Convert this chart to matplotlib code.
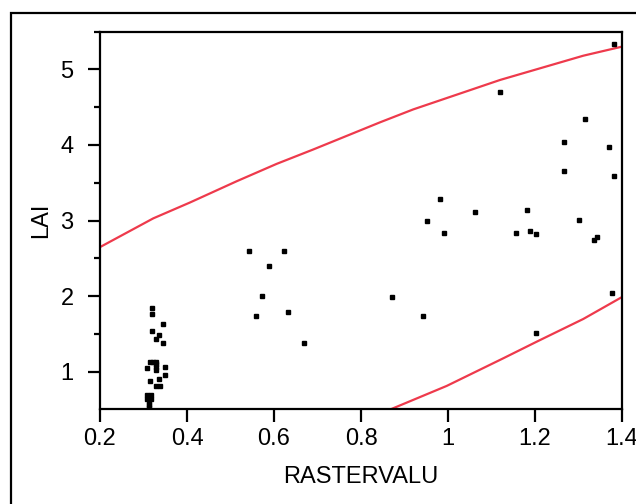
import matplotlib
matplotlib.use("Agg")
import matplotlib.pyplot as plt
from matplotlib.patches import Rectangle
from matplotlib.ticker import MultipleLocator

plt.rcParams['font.family'] = ['Liberation Sans', 'DejaVu Sans']

# scatter data
raster = [1.382, 1.120, 1.315, 1.266, 1.370, 1.266, 1.382,
          0.982, 1.062, 0.952, 1.182, 0.991, 1.156, 1.189, 1.202,
          1.301, 1.343, 1.336, 0.871, 0.942, 1.377, 1.202,
          0.543, 0.624, 0.589, 0.573, 0.633, 0.559, 0.669,
          0.320, 0.320, 0.345, 0.320, 0.335, 0.329, 0.345,
          0.315, 0.322, 0.329, 0.329, 0.309, 0.329, 0.329, 0.349,
          0.349, 0.335, 0.315, 0.329, 0.339,
          0.308, 0.318, 0.308, 0.318, 0.313, 0.313, 0.313, 0.313]
lai = [5.34, 4.70, 4.34, 4.04, 3.97, 3.66, 3.59,
       3.29, 3.12, 2.99, 3.14, 2.83, 2.83, 2.86, 2.82,
       3.01, 2.79, 2.75, 1.99, 1.74, 2.04, 1.51,
       2.60, 2.60, 2.40, 2.01, 1.79, 1.74, 1.38,
       1.84, 1.77, 1.63, 1.54, 1.49, 1.43, 1.38,
       1.13, 1.13, 1.13, 1.10, 1.05, 1.06, 1.02, 1.07,
       0.96, 0.91, 0.88, 0.82, 0.82,
       0.70, 0.70, 0.64, 0.64, 0.67, 0.60, 0.56, 0.53]

# prediction band curves
upper_x = [0.2, 0.3225, 0.407, 0.514, 0.606, 0.690, 0.844, 0.920, 1.120, 1.311, 1.40]
upper_y = [2.65, 3.03, 3.24, 3.52, 3.75, 3.94, 4.30, 4.47, 4.86, 5.18, 5.30]
lower_x = [0.85, 0.874, 0.997, 1.127, 1.204, 1.311, 1.40]
lower_y = [0.46, 0.52, 0.815, 1.18, 1.40, 1.70, 1.99]

xticks = [0.2, 0.4, 0.6, 0.8, 1.0, 1.2, 1.4]
xticklabels = ['0.2', '0.4', '0.6', '0.8', '1', '1.2', '1.4']
yticks = [1, 2, 3, 4, 5]

fig = plt.figure(figsize=(6.36, 5.04), dpi=100)
ax = fig.add_axes([100/636, 1 - 409/504, 522/636, 377.5/504])

# outer frame, open to the right and bottom
fig.patches.append(Rectangle((11/636, -0.1), 1.2, 1.1 - 13/504, transform=fig.transFigure,
                             fill=False, edgecolor='black', linewidth=1.6))

red = '#ee3a4c'
ax.plot(upper_x, upper_y, color=red, linewidth=1.6)
ax.plot(lower_x, lower_y, color=red, linewidth=1.6)
ax.plot(raster, lai, 's', color='black', markersize=3, linestyle='none')

ax.set_xlim(0.2, 1.4)
ax.set_ylim(0.51, 5.50)
ax.set_xticks(xticks)
ax.set_xticklabels(xticklabels)
ax.set_yticks(yticks)
ax.yaxis.set_minor_locator(MultipleLocator(0.5))

for s in ax.spines.values():
    s.set_linewidth(1.6)

ax.tick_params(axis='both', which='major', labelsize=17, length=9, width=1.6)
ax.tick_params(axis='x', pad=5)
ax.tick_params(axis='y', pad=10)
ax.tick_params(axis='y', which='minor', length=4.5, width=1.6)

ax.set_xlabel('RASTERVALU', fontsize=17, labelpad=11)
ax.set_ylabel('LAI', fontsize=17, labelpad=6)

fig.savefig('out.png', dpi=100)
